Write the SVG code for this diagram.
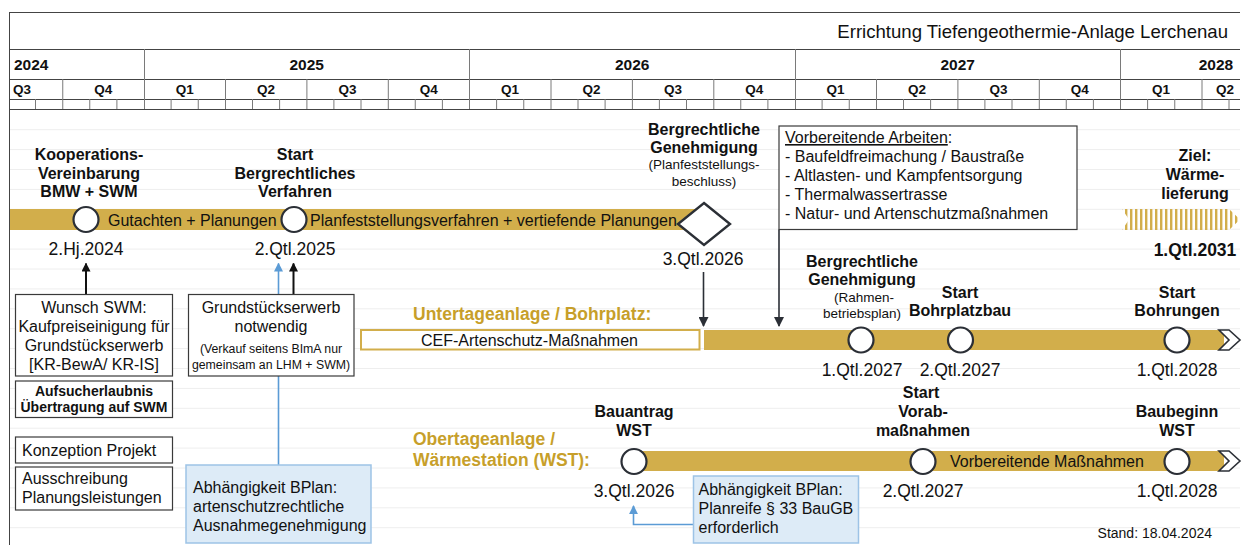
<svg xmlns="http://www.w3.org/2000/svg" width="1248" height="545" viewBox="0 0 1248 545">
<style>
text{font-family:"Liberation Sans",Arial,sans-serif;fill:#111}
.t16{font-size:16px}
.b16{font-size:16px;font-weight:bold;text-anchor:middle}
.sm{font-size:13.5px;text-anchor:middle}
.date{font-size:17.5px;text-anchor:middle}
.gold{font-size:17.5px;font-weight:bold;fill:#C79F2A}
.yr{font-size:15.5px;font-weight:bold;text-anchor:middle}
.q{font-size:13.5px;font-weight:bold;text-anchor:middle}
.bar{fill:#D2AE4B}
.ms{fill:#fff;stroke:#2b2f36;stroke-width:2.2}
.box{fill:#fff;stroke:#3a3a3a;stroke-width:1.2}
.bbox{fill:#DDEBF7;stroke:#9DC3E6;stroke-width:1.5}
.grid{stroke:#444;stroke-width:1;fill:none}
.igrid{stroke:#7a7a7a;stroke-width:1;fill:none}
.faint{stroke:#eeeeee;stroke-width:1;fill:none}
.arr{stroke:#111;stroke-width:2;fill:none}
.darr{stroke:#2b2f36;stroke-width:1.6;fill:none}
.blue{stroke:#5B9BD5;stroke-width:1.6;fill:none}
.mid{text-anchor:middle}
.chev{fill:#fff;stroke:#2b2f36;stroke-width:1.6;stroke-linejoin:miter}
</style>
<defs>
<marker id="ahK" viewBox="0 0 10 10" refX="9" refY="5" markerWidth="9" markerHeight="9" markerUnits="userSpaceOnUse" orient="auto"><path d="M0,0L10,5L0,10z" fill="#111"/></marker>
<marker id="ahD" viewBox="0 0 10 10" refX="9" refY="5" markerWidth="10" markerHeight="10" markerUnits="userSpaceOnUse" orient="auto"><path d="M0,0L10,5L0,10z" fill="#2b2f36"/></marker>
<marker id="ahB" viewBox="0 0 10 10" refX="9" refY="5" markerWidth="9" markerHeight="9" markerUnits="userSpaceOnUse" orient="auto"><path d="M0,0L10,5L0,10z" fill="#5B9BD5"/></marker>
<pattern id="hatch" width="5" height="10" patternUnits="userSpaceOnUse"><rect width="2.4" height="10" fill="#D2AE4B"/></pattern>
</defs>

<g id="gridlines">
<path class="faint" d="M10,129.7H1240M10,149.6H1240M10,169.5H1240M10,189.4H1240M10,209.3H1240M10,229.2H1240M10,249.1H1240M10,269H1240M10,288.9H1240M10,308.8H1240M10,328.7H1240M10,348.6H1240M10,368.5H1240M10,388.4H1240M10,408.3H1240M10,428.2H1240M10,448.1H1240M10,468H1240M10,487.9H1240M10,507.8H1240M10,527.7H1240"/>
</g>

<g id="header">
<path class="grid" d="M9,12.5H1240M9,49.5H1240M9,79.5H1240M9,99.5H1240M9,109.5H1240M9.5,12V545"/>
<path class="igrid" d="M144.5,49V109M469.5,49V109M795.5,49V109M1120.5,49V109"/>
<path class="igrid" d="M62.75,79V109M225.5,79V109M306.9,79V109M388.3,79V109M551,79V109M632.4,79V109M713.8,79V109M876.5,79V109M957.9,79V109M1039.3,79V109M1202,79V109"/>
<path class="igrid" d="M35.5,99V109M89.75,99V109M116.9,99V109M171.1,99V109M198.25,99V109M252.5,99V109M279.6,99V109M333.9,99V109M361,99V109M415.25,99V109M442.4,99V109M496.6,99V109M523.75,99V109M578,99V109M605.1,99V109M659.4,99V109M686.5,99V109M740.75,99V109M767.9,99V109M822.1,99V109M849.25,99V109M903.5,99V109M930.6,99V109M984.9,99V109M1012,99V109M1066.25,99V109M1093.4,99V109M1147.6,99V109M1174.75,99V109M1229,99V109"/>
<text x="1228" y="38" style="font-size:18.6px;text-anchor:end">Errichtung Tiefengeothermie-Anlage Lerchenau</text>
<text x="14" y="70" class="yr" style="text-anchor:start">2024</text>
<text x="306.75" y="70" class="yr">2025</text>
<text x="632.25" y="70" class="yr">2026</text>
<text x="957.75" y="70" class="yr">2027</text>
<text x="1216" y="70" class="yr">2028</text>
<text x="13" y="94" class="q" style="text-anchor:start">Q3</text>
<text x="103.3" y="94" class="q">Q4</text>
<text x="184.7" y="94" class="q">Q1</text>
<text x="266" y="94" class="q">Q2</text>
<text x="347.4" y="94" class="q">Q3</text>
<text x="428.8" y="94" class="q">Q4</text>
<text x="510.1" y="94" class="q">Q1</text>
<text x="591.5" y="94" class="q">Q2</text>
<text x="672.9" y="94" class="q">Q3</text>
<text x="754.3" y="94" class="q">Q4</text>
<text x="835.6" y="94" class="q">Q1</text>
<text x="917" y="94" class="q">Q2</text>
<text x="998.4" y="94" class="q">Q3</text>
<text x="1079.8" y="94" class="q">Q4</text>
<text x="1161.1" y="94" class="q">Q1</text>
<text x="1225" y="94" class="q">Q2</text>
</g>

<g id="connectors">
<path class="arr" d="M86,294V263.5" marker-end="url(#ahK)"/>
<path class="arr" d="M293.5,294V263.5" marker-end="url(#ahK)"/>
<path class="blue" d="M278.5,465V263.5" marker-end="url(#ahB)"/>
<path class="blue" d="M693.5,524.5H633.5V506" marker-end="url(#ahB)"/>
<path class="darr" d="M703.5,272V326" marker-end="url(#ahD)"/>
<path class="darr" d="M779,229.5V326" marker-end="url(#ahD)"/>
</g>

<g id="track-main">
<rect class="bar" x="10" y="209" width="690" height="21"/>
<text x="108" y="225.5" class="t16">Gutachten + Planungen</text>
<text x="310" y="225.5" class="t16">Planfeststellungsverfahren + vertiefende Planungen</text>
</g>

<g id="ms-kooperation">
<circle class="ms" cx="86" cy="219.5" r="12.5"/>
<text class="b16" x="89" y="160">Kooperations-</text>
<text class="b16" x="89" y="178.5">Vereinbarung</text>
<text class="b16" x="89" y="197">BMW + SWM</text>
<text class="date" x="86" y="255">2.Hj.2024</text>
</g>

<g id="ms-start-verfahren">
<circle class="ms" cx="294" cy="219.5" r="12.5"/>
<text class="b16" x="295" y="160">Start</text>
<text class="b16" x="295" y="178.5">Bergrechtliches</text>
<text class="b16" x="295" y="197">Verfahren</text>
<text class="date" x="295" y="255">2.Qtl.2025</text>
</g>

<g id="ms-genehmigung">
<polygon points="704,203 730,224 704,245 678,224" fill="#fff" stroke="#2b2f36" stroke-width="2.4"/>
<text class="b16" x="704" y="135">Bergrechtliche</text>
<text class="b16" x="704" y="153">Genehmigung</text>
<text class="sm" x="704" y="169">(Planfeststellungs-</text>
<text class="sm" x="704" y="186">beschluss)</text>
<text class="date" x="703" y="265">3.Qtl.2026</text>
</g>

<g id="box-vorbereitende">
<rect class="box" x="779" y="126" width="298" height="103.5"/>
<text class="t16" x="785" y="143"><tspan text-decoration="underline">Vorbereitende Arbeiten</tspan>:</text>
<text class="t16" x="785" y="162">- Baufeldfreimachung / Baustraße</text>
<text class="t16" x="785" y="181">- Altlasten- und Kampfentsorgung</text>
<text class="t16" x="785" y="200">- Thermalwassertrasse</text>
<text class="t16" x="785" y="219">- Natur- und Artenschutzmaßnahmen</text>
</g>

<g id="ms-ziel">
<polygon points="1122,209 1229,209 1240,219.5 1229,230 1122,230 1129,219.5" fill="url(#hatch)"/>
<text class="b16" x="1195" y="161">Ziel:</text>
<text class="b16" x="1195" y="180">Wärme-</text>
<text class="b16" x="1195" y="199">lieferung</text>
<text class="date" x="1195" y="256" style="font-weight:bold">1.Qtl.2031</text>
</g>

<g id="box-wunsch">
<rect class="box" x="15.5" y="294.5" width="157" height="81.5"/>
<text class="t16 mid" x="94" y="312.5">Wunsch SWM:</text>
<text class="t16 mid" x="94" y="331.5">Kaufpreiseinigung für</text>
<text class="t16 mid" x="94" y="350.5">Grundstückserwerb</text>
<text class="t16 mid" x="94" y="369.5">[KR-BewA/ KR-IS]</text>
</g>

<g id="box-aufsucher">
<rect class="box" x="15.5" y="381" width="157" height="36.5"/>
<text class="mid" x="94" y="396" style="font-size:14px;font-weight:bold">Aufsucherlaubnis</text>
<text class="mid" x="94" y="412" style="font-size:14px;font-weight:bold">Übertragung auf SWM</text>
</g>

<g id="box-konzeption">
<rect class="box" x="15.5" y="437" width="157" height="26"/>
<text class="t16" x="22" y="455.5">Konzeption Projekt</text>
</g>

<g id="box-ausschreibung">
<rect class="box" x="15.5" y="467" width="157" height="43"/>
<text class="t16" x="22" y="484">Ausschreibung</text>
<text class="t16" x="22" y="503">Planungsleistungen</text>
</g>

<g id="box-grundstueck">
<rect class="box" x="188.5" y="294.5" width="165.5" height="81.5"/>
<text class="t16 mid" x="271" y="312.5">Grundstückserwerb</text>
<text class="t16 mid" x="271" y="331.5">notwendig</text>
<text class="mid" x="271" y="353" style="font-size:12.3px">(Verkauf seitens BImA nur</text>
<text class="mid" x="271" y="369" style="font-size:12.3px">gemeinsam an LHM + SWM)</text>
</g>

<g id="box-bplan-1">
<rect class="bbox" x="186" y="465" width="185" height="78"/>
<text class="t16" x="193" y="493">Abhängigkeit BPlan:</text>
<text class="t16" x="193" y="512">artenschutzrechtliche</text>
<text class="t16" x="193" y="531">Ausnahmegenehmigung</text>
</g>

<g id="track-untertage">
<text class="gold" x="413" y="320">Untertageanlage / Bohrplatz:</text>
<rect x="361" y="330" width="338.5" height="19.5" fill="#fff" stroke="#D2AE4B" stroke-width="2"/>
<text class="t16" x="421" y="346">CEF-Artenschutz-Maßnahmen</text>
<rect class="bar" x="704" y="330" width="520" height="20"/>
<polygon class="chev" points="1219,330 1229,330 1240,340 1229,350 1219,350 1229,340"/>
</g>

<g id="ms-rahmenbetriebsplan">
<circle class="ms" cx="861" cy="340" r="12.5"/>
<text class="b16" x="862" y="267">Bergrechtliche</text>
<text class="b16" x="862" y="285">Genehmigung</text>
<text class="sm" x="864" y="302">(Rahmen-</text>
<text class="sm" x="862" y="318">betriebsplan)</text>
<text class="date" x="862" y="376">1.Qtl.2027</text>
</g>

<g id="ms-bohrplatzbau">
<circle class="ms" cx="960.5" cy="340" r="12.5"/>
<text class="b16" x="960" y="298">Start</text>
<text class="b16" x="960" y="316">Bohrplatzbau</text>
<text class="date" x="960" y="376">2.Qtl.2027</text>
</g>

<g id="ms-bohrungen">
<circle class="ms" cx="1177" cy="340" r="12.5"/>
<text class="b16" x="1177" y="298">Start</text>
<text class="b16" x="1177" y="316">Bohrungen</text>
<text class="date" x="1177" y="376">1.Qtl.2028</text>
</g>

<g id="track-obertage">
<text class="gold" x="413" y="445">Obertageanlage /</text>
<text class="gold" x="413" y="466">Wärmestation (WST):</text>
<rect class="bar" x="634" y="451" width="590" height="20"/>
<text class="t16" x="950" y="466.5">Vorbereitende Maßnahmen</text>
<polygon class="chev" points="1219,451 1229,451 1240,461 1229,471 1219,471 1229,461"/>
</g>

<g id="ms-bauantrag">
<circle class="ms" cx="634" cy="461.5" r="12.5"/>
<text class="b16" x="634" y="417">Bauantrag</text>
<text class="b16" x="634" y="436">WST</text>
<text class="date" x="634" y="497">3.Qtl.2026</text>
</g>

<g id="ms-vorab">
<circle class="ms" cx="923" cy="461.5" r="12.5"/>
<text class="b16" x="921" y="398">Start</text>
<text class="b16" x="923" y="417">Vorab-</text>
<text class="b16" x="923" y="436">maßnahmen</text>
<text class="date" x="923" y="497">2.Qtl.2027</text>
</g>

<g id="ms-baubeginn">
<circle class="ms" cx="1177" cy="461.5" r="12.5"/>
<text class="b16" x="1177" y="417">Baubeginn</text>
<text class="b16" x="1177" y="436">WST</text>
<text class="date" x="1177" y="497">1.Qtl.2028</text>
</g>

<g id="box-bplan-2">
<rect class="bbox" x="693.5" y="476" width="165" height="67"/>
<text class="t16" x="698.5" y="495">Abhängigkeit BPlan:</text>
<text class="t16" x="698.5" y="514">Planreife § 33 BauGB</text>
<text class="t16" x="698.5" y="533">erforderlich</text>
</g>

<text x="1212" y="538" style="font-size:14px;text-anchor:end">Stand: 18.04.2024</text>
</svg>
